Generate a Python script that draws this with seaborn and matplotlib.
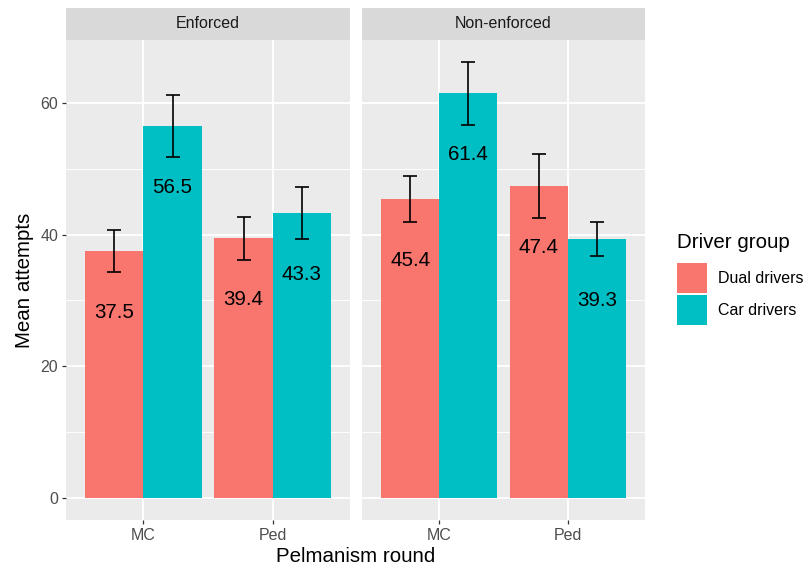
import matplotlib
matplotlib.use("Agg")
import matplotlib.pyplot as plt
import seaborn as sns
import pandas as pd
import numpy as np

# ---- data ----
panels = ["Enforced", "Non-enforced"]
rounds = ["MC", "Ped"]
groups = ["Dual drivers", "Car drivers"]
enf_dual = [37.5, 39.4]
enf_car = [56.5, 43.3]
non_dual = [45.4, 47.4]
non_car = [61.4, 39.3]
# half-widths of error bars
enf_dual_err = [3.2, 3.3]
enf_car_err = [4.7, 3.95]
non_dual_err = [3.5, 4.85]
non_car_err = [4.8, 2.55]

rows = []
for p, dual, car, de, ce in [("Enforced", enf_dual, enf_car, enf_dual_err, enf_car_err),
                             ("Non-enforced", non_dual, non_car, non_dual_err, non_car_err)]:
    for i, r in enumerate(rounds):
        rows.append(dict(panel=p, round=r, group="Dual drivers", mean=dual[i], err=de[i]))
        rows.append(dict(panel=p, round=r, group="Car drivers", mean=car[i], err=ce[i]))
df = pd.DataFrame(rows)

palette = {"Dual drivers": "#F8766D", "Car drivers": "#00BFC4"}

plt.rcParams["font.family"] = ["Liberation Sans", "DejaVu Sans"]

W, H = 809, 568
fig = plt.figure(figsize=(W / 100, H / 100), dpi=100)

def fx(px):
    return px / W

def fy(py):
    return 1 - py / H

panel_px = [(66, 350), (362, 645)]
top_px, bot_px, strip_top = 40, 520, 8

TICK = 11.5
TITLE = 14.8

axes = []
for k, (p, (x0, x1)) in enumerate(zip(panels, panel_px)):
    ax = fig.add_axes([fx(x0), fy(bot_px), fx(x1 - x0), (bot_px - top_px) / H])
    sax = fig.add_axes([fx(x0), fy(top_px), fx(x1 - x0), (top_px - strip_top) / H])
    sax.set_facecolor("#D9D9D9")
    sax.set_xticks([]); sax.set_yticks([])
    for s in sax.spines.values():
        s.set_visible(False)
    sax.text(0.5, 0.5, p, ha="center", va="center", fontsize=TICK, color="#1A1A1A",
             transform=sax.transAxes)

    sub = df[df.panel == p]
    ax.set_facecolor("#EBEBEB")
    ax.set_axisbelow(True)
    sns.barplot(data=sub, x="round", y="mean", hue="group", order=rounds,
                hue_order=groups, palette=palette, errorbar=None, width=0.9,
                gap=0, saturation=1, ax=ax, zorder=2)
    offsets = {"Dual drivers": -0.225, "Car drivers": 0.225}
    for _, r in sub.iterrows():
        xi = rounds.index(r["round"]) + offsets[r["group"]]
        ax.errorbar(xi, r["mean"], yerr=r["err"], fmt="none", ecolor="black",
                    elinewidth=1.2, capsize=4.8, capthick=1.2, zorder=4)
        ax.text(xi, r["mean"] - 9.3, f"{r['mean']:.1f}", ha="center", va="center",
                fontsize=TITLE, color="black", zorder=5)

    ax.set_xlim(-0.6, 1.6)
    ax.set_ylim(-3.3, 69.5)
    ax.set_yticks([0, 20, 40, 60])
    ax.set_yticks([10, 30, 50], minor=True)
    ax.grid(True, which="major", color="white", linewidth=1.3, zorder=0)
    ax.grid(True, which="minor", axis="y", color="white", linewidth=0.65, zorder=0)
    for s in ax.spines.values():
        s.set_visible(False)
    ax.tick_params(axis="both", which="major", length=3.2, width=0.9, color="#333333",
                   labelcolor="#4D4D4D", labelsize=TICK, pad=2.5)
    ax.tick_params(axis="y", which="minor", length=0)
    ax.set_xlabel("")
    ax.set_ylabel("")
    if k == 1:
        ax.set_yticklabels([])
        ax.tick_params(axis="y", length=0)
    axes.append(ax)

# legend
leg = axes[1].get_legend()
handles = leg.legend_handles
labels = [t.get_text() for t in leg.get_texts()]
for ax in axes:
    if ax.get_legend() is not None:
        ax.get_legend().remove()
fig.legend(handles, labels, loc="upper left",
           bbox_to_anchor=(fx(677), fy(263)), frameon=False, fontsize=TICK,
           handlelength=1.9, handleheight=2.5,
           handletextpad=0.65, labelspacing=0.13,
           borderpad=0, borderaxespad=0)
fig.text(fx(677), fy(242), "Driver group", ha="left", va="center",
         fontsize=TITLE, color="black")

fig.text(fx((66 + 645) / 2), fy(557), "Pelmanism round", ha="center", va="center",
         fontsize=TITLE, color="black")
fig.text(fx(25), fy(280), "Mean attempts", ha="center", va="center", rotation=90,
         fontsize=TITLE, color="black")

fig.savefig("out.png", dpi=100, facecolor="white")
